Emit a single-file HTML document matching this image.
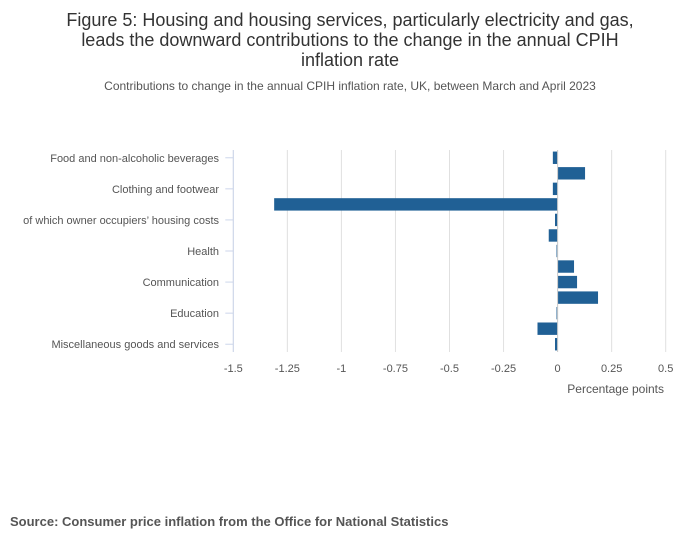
<!DOCTYPE html>
<html><head><meta charset="utf-8"><style>
body{margin:0;background:#fff;width:700px;height:549px;overflow:hidden;font-family:"Liberation Sans","DejaVu Sans",sans-serif}
</style></head><body>
<svg width="700" height="549">
<text x="350" y="26" text-anchor="middle" font-size="18" fill="#333"><tspan x="350">Figure 5: Housing and housing services, particularly electricity and gas,</tspan><tspan x="350" dy="20">leads the downward contributions to the change in the annual CPIH</tspan><tspan x="350" dy="20">inflation rate</tspan></text>
<text x="350" y="90" text-anchor="middle" font-size="12" fill="#555">Contributions to change in the annual CPIH inflation rate, UK, between March and April 2023</text>
<g id="plot"></g>
<text x="664" y="393" text-anchor="end" font-size="12" fill="#555">Percentage points</text>
<text x="10" y="526" font-size="13" font-weight="bold" fill="#555">Source: Consumer price inflation from the Office for National Statistics</text>
</svg>
<script>
const categories=["Food and non-alcoholic beverages","Alcoholic beverages and tobacco","Clothing and footwear","Housing and household services","of which owner occupiers\u2019 housing costs","Furniture and household goods","Health","Transport","Communication","Recreation and culture","Education","Restaurants and hotels","Miscellaneous goods and services"];
const values=[-0.022,0.127,-0.022,-1.311,-0.012,-0.041,-0.005,0.076,0.09,0.187,-0.005,-0.093,-0.012];
const ticks=[-1.5,-1.25,-1,-0.75,-0.5,-0.25,0,0.25,0.5];
const tickLabels=["-1.5","-1.25","-1","-0.75","-0.5","-0.25","0","0.25","0.5"];
const NS="http://www.w3.org/2000/svg";
const g=document.getElementById('plot');
const x0=233.3,x1=665.7,yTop=150,yBot=352;
const xs=v=>x0+(v+1.5)/2*(x1-x0);
const band=(yBot-yTop)/categories.length;
const yc=i=>yTop+band*(i+0.5);
function mk(t,a){const e=document.createElementNS(NS,t);for(const k in a)e.setAttribute(k,a[k]);g.appendChild(e);return e;}
ticks.forEach((t,i)=>{
 const l=mk('line',{x1:xs(t),x2:xs(t),y1:yTop,y2:yBot,stroke:'#e0e0e0','stroke-width':1});
 
 
 const tx=mk('text',{x:xs(t),y:yBot+20,'text-anchor':'middle','font-size':11,fill:'#555'});
 tx.textContent=tickLabels[i];
 
 
});
const ax=mk('line',{x1:x0,x2:x0,y1:yTop,y2:yBot,stroke:'#ccd6eb','stroke-width':1});


categories.forEach((c,i)=>{
 const v=values[i];
 const r=mk('rect',{x:Math.min(xs(0),xs(v)),y:yc(i)-6.2,width:Math.max(1,Math.abs(xs(v)-xs(0))),height:12.4,fill:'#206095'});
 
 
 if(i%2===0){
  const tk=mk('line',{x1:x0-8,x2:x0,y1:yc(i),y2:yc(i),stroke:'#ccd6eb','stroke-width':1});
  
  
  const tx=mk('text',{x:219,y:yc(i)+4,'text-anchor':'end','font-size':11,fill:'#555'});
  tx.textContent=c;
  
  
 }
});
const z=mk('line',{x1:xs(0),x2:xs(0),y1:yTop,y2:yBot,stroke:'#ccc','stroke-width':1});


</script>
</body></html>
